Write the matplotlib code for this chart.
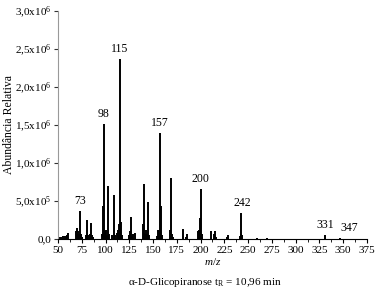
import matplotlib.pyplot as plt
import numpy as np

plt.rcParams["font.family"] = "Liberation Serif"
plt.rcParams["mathtext.fontset"] = "custom"
plt.rcParams["mathtext.rm"] = "Liberation Serif"
plt.rcParams["mathtext.it"] = "Liberation Serif:italic"

# m/z and abundance (x10^6)
MZ = [51, 53, 55, 57, 59, 60, 61, 69, 70, 71, 72, 73, 74, 75, 79, 81, 82, 84,
      85, 86, 87, 96, 97, 98, 99, 101, 102, 103, 104, 107, 109, 110, 112, 113,
      114, 115, 116, 117, 125, 126, 127, 128, 129, 131, 139, 140, 141, 142, 143,
      144, 145, 146, 154, 155, 156, 157, 158, 159, 168, 169, 170, 171, 182, 185,
      186, 197, 198, 199, 200, 201, 202, 211, 214, 215, 216, 228, 229, 241, 242,
      243, 244, 259, 270, 331, 347]
ABUND = [0.02, 0.03, 0.04, 0.04, 0.05, 0.04, 0.08, 0.10, 0.14, 0.10, 0.06, 0.37,
         0.06, 0.03, 0.05, 0.25, 0.05, 0.06, 0.21, 0.05, 0.03, 0.06, 0.43, 1.51,
         0.10, 0.12, 0.05, 0.70, 0.06, 0.05, 0.58, 0.05, 0.08, 0.12, 0.20, 2.37,
         0.22, 0.05, 0.05, 0.10, 0.29, 0.04, 0.06, 0.08, 0.20, 0.72, 0.08, 0.06,
         0.12, 0.06, 0.48, 0.05, 0.04, 0.12, 0.12, 1.39, 0.43, 0.05, 0.12, 0.80,
         0.06, 0.03, 0.13, 0.03, 0.07, 0.10, 0.12, 0.28, 0.66, 0.06, 0.03, 0.11,
         0.06, 0.10, 0.03, 0.03, 0.05, 0.04, 0.34, 0.06, 0.05, 0.01, 0.01, 0.05,
         0.01]

LABELED = [73, 98, 115, 157, 200, 242, 331, 347]
LABEL_X = [73, 98, 115, 157, 200, 244, 331, 356]

YTICKS = [0, 0.5e6, 1.0e6, 1.5e6, 2.0e6, 2.5e6, 3.0e6]
YTICKLABELS = ["0,0", r"5,0x10$^{5}$", r"1,0x10$^{6}$", r"1,5x10$^{6}$",
               r"2,0x10$^{6}$", r"2,5x10$^{6}$", r"3,0x10$^{6}$"]

fig = plt.figure(figsize=(3.8, 2.95), dpi=100)
ax = fig.add_axes([0.1526, 0.19, 0.813, 0.7727])

y = np.array(ABUND) * 1e6
ax.vlines(MZ, 0, y, color="black", linewidth=1.4)

for mz, lx in zip(LABELED, LABEL_X):
    top = y[MZ.index(mz)]
    ax.annotate(str(mz), (lx, top), xytext=(0, 3), textcoords="offset points",
                ha="center", va="bottom", fontsize=8.5)

ax.set_xlim(50, 375)
ax.set_ylim(0, 3.0e6)
ax.set_xticks(np.arange(50, 376, 25))
ax.set_xticks(np.arange(62.5, 375, 25), minor=True)
ax.set_yticks(YTICKS)
ax.set_yticklabels(YTICKLABELS)

for s in ["top", "right"]:
    ax.spines[s].set_visible(False)
ax.spines["left"].set_color("#999999")
ax.tick_params(axis="both", length=3, width=0.8, pad=2)
ax.tick_params(axis="x", labelsize=8)
ax.tick_params(axis="y", labelsize=8, color="#333333")
ax.tick_params(axis="x", which="minor", length=2)

ax.set_ylabel("Abundância Relativa", fontsize=8.5)
ax.yaxis.set_label_coords(-0.14, 0.5)
ax.set_xlabel("$m/z$", fontsize=8, labelpad=1)
fig.text(0.54, 0.035, r"α-D-Glicopiranose t$_{\mathrm{R}}$ = 10,96 min",
         ha="center", fontsize=8)

fig.savefig("out.png", dpi=100)
